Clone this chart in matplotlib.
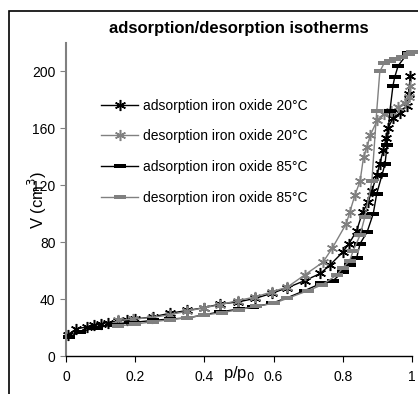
import matplotlib
matplotlib.use("Agg")
import matplotlib.pyplot as plt
from matplotlib.path import Path
from matplotlib.patches import Rectangle

plt.rcParams['font.family'] = ['Liberation Sans', 'DejaVu Sans']

# adsorption iron oxide 20°C
ads20_p = [0.005, 0.03, 0.06, 0.08, 0.10, 0.12, 0.15, 0.175, 0.20, 0.25, 0.30, 0.35,
           0.40, 0.445, 0.497, 0.547, 0.594, 0.64, 0.69, 0.735, 0.763, 0.80, 0.818,
           0.84, 0.857, 0.873, 0.884, 0.898, 0.907, 0.917, 0.925, 0.93, 0.945, 0.965,
           0.985, 0.99, 0.995]
ads20_v = [15, 19, 20.5, 21.5, 22.5, 23.5, 24.5, 25.5, 26, 27.5, 30, 32,
           34, 36.5, 38, 40.5, 44, 48, 53, 58, 64, 73, 79,
           88, 101, 108, 116, 127, 135, 145, 153, 160, 167, 171,
           176, 184, 197]
# desorption iron oxide 20°C
des20_p = [0.995, 0.99, 0.98, 0.96, 0.94, 0.92, 0.90, 0.879, 0.87, 0.86, 0.85,
           0.835, 0.82, 0.81, 0.77, 0.743, 0.69, 0.64, 0.594, 0.547, 0.497,
           0.445, 0.40, 0.35, 0.30, 0.248, 0.195, 0.15]
des20_v = [190, 182, 178, 175, 172, 170, 166, 155, 147, 140, 123,
           113, 101, 93, 76, 66, 57, 48.5, 45, 41.5, 39,
           36, 34, 31.5, 29, 27, 26, 25]
# adsorption iron oxide 85°C
ads85_p = [0.01, 0.04, 0.09, 0.14, 0.19, 0.25, 0.30, 0.35, 0.40, 0.445, 0.50,
           0.54, 0.594, 0.64, 0.69, 0.737, 0.772, 0.80, 0.82, 0.84, 0.85, 0.87,
           0.888, 0.898, 0.913, 0.922, 0.928, 0.936, 0.945, 0.95, 0.96, 0.988, 1.0]
ads85_v = [13.5, 17, 20, 22, 23.5, 25, 26, 26.7, 29, 31, 33,
           34.4, 37, 41, 46, 51, 53, 59, 64, 69, 79, 87,
           100, 114, 127, 135, 148, 172, 190, 196, 204, 213, 214]
# desorption iron oxide 85°C
des85_p = [1.0, 0.99, 0.97, 0.95, 0.935, 0.92, 0.907, 0.898, 0.884, 0.864, 0.85,
           0.83, 0.82, 0.80, 0.783, 0.74, 0.70, 0.64, 0.60, 0.55, 0.50, 0.45,
           0.40, 0.35, 0.30, 0.25, 0.20, 0.15]
des85_v = [214, 212, 210, 209, 207, 206, 200, 172, 123, 98, 85,
           74, 67, 62, 57, 50, 46, 40.5, 37, 35, 32.5, 30.5,
           28.7, 27, 25.5, 24, 22.5, 21]

labels = ['adsorption iron oxide 20°C', 'desorption iron oxide 20°C',
          'adsorption iron oxide 85°C', 'desorption iron oxide 85°C']
xticks = [0, 0.2, 0.4, 0.6, 0.8, 1]
xticklabels = ['0', '0.2', '0.4', '0.6', '0.8', '1']
yticks = [0, 40, 80, 120, 160, 200]

GRAY = '#808080'
dash = Path([(-1, -0.36), (1, -0.36), (1, 0.36), (-1, 0.36), (-1, -0.36)],
            [Path.MOVETO, Path.LINETO, Path.LINETO, Path.LINETO, Path.CLOSEPOLY])
star = (6, 2, 0)

fig = plt.figure(figsize=(4.18, 3.94), dpi=100)
fig.patches.append(Rectangle((9/418, -0.1), 1.2, (394-11)/394 + 0.1,
                             transform=fig.transFigure, fill=False,
                             edgecolor='black', linewidth=1.2))
ax = fig.add_axes([66/418, (394-356)/394, (412-66)/418, (356-43)/394])

ax.plot(ads20_p, ads20_v, color='black', lw=1, marker=star, ms=8, mew=1.1,
        label=labels[0], clip_on=False)
ax.plot(des20_p, des20_v, color=GRAY, lw=1, marker=star, ms=8, mew=1.1,
        label=labels[1], clip_on=False)
ax.plot(ads85_p, ads85_v, color='black', lw=1, marker=dash, ms=9, mew=0,
        label=labels[2], clip_on=False)
ax.plot(des85_p, des85_v, color=GRAY, lw=1, marker=dash, ms=9, mew=0,
        label=labels[3], clip_on=False)

ax.set_xlim(0, 1)
ax.set_ylim(0, 220)
ax.set_xticks(xticks)
ax.set_xticklabels(xticklabels)
ax.set_yticks(yticks)
for s in ['top', 'right']:
    ax.spines[s].set_visible(False)
ax.spines['left'].set_color(GRAY)
ax.spines['left'].set_linewidth(1.5)
ax.spines['bottom'].set_color('black')
ax.spines['bottom'].set_linewidth(1)
ax.tick_params(axis='y', colors=GRAY, labelcolor='black', length=4, labelsize=10)
ax.tick_params(axis='x', length=4, labelsize=10, pad=6)

ax.set_title('adsorption/desorption isotherms', fontsize=12, fontweight='bold', pad=7)
ax.set_xlabel('p/p$_0$', fontsize=12, labelpad=-14)
ax.set_ylabel('V (cm$^3$)', fontsize=12, labelpad=-12)

leg = ax.legend(loc='upper left', bbox_to_anchor=(0.085, 0.84), frameon=False,
                fontsize=10, handlelength=2.7, labelspacing=1.2, handletextpad=0.3,
                borderaxespad=0)

fig.savefig('out.png', dpi=100)
